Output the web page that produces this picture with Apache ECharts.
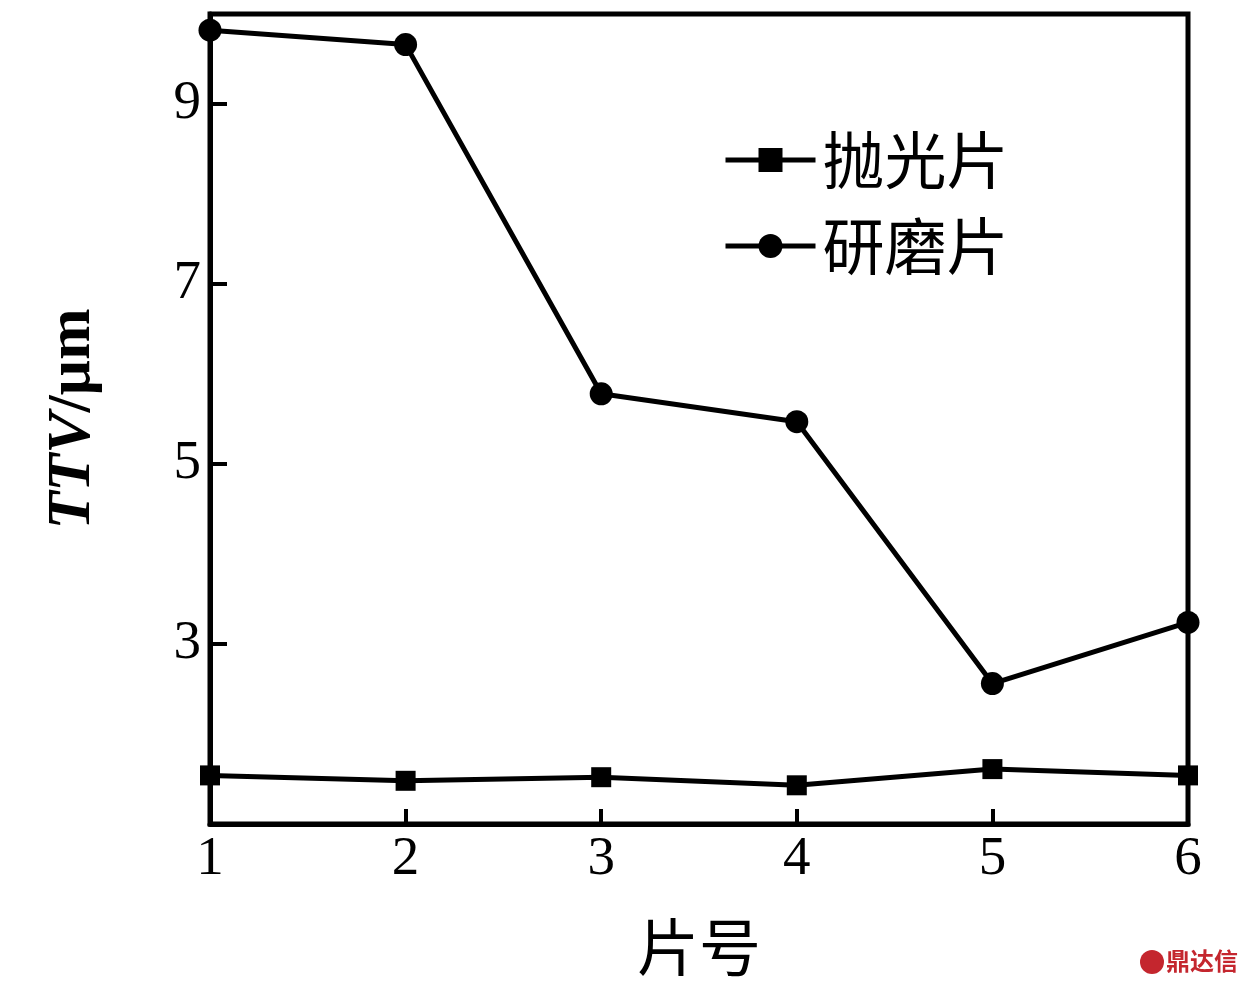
<!DOCTYPE html>
<html>
<head>
<meta charset="utf-8">
<script src="https://cdn.jsdelivr.net/npm/echarts@6/dist/echarts.min.js"></script>
<style>html,body{margin:0;padding:0;background:#fff}#c{width:1242px;height:984px}</style>
</head>
<body>
<div id="c"></div>
<script>
var sliceNo = [1, 2, 3, 4, 5, 6];
var polished = [1.54, 1.48, 1.52, 1.43, 1.61, 1.54];
var lapped = [9.82, 9.66, 5.78, 5.47, 2.56, 3.24];
var seriesNames = ['抛光片', '研磨片'];

function pairs(xs, ys) { return xs.map(function (x, i) { return [x, ys[i]]; }); }

var serif = '"Liberation Serif","DejaVu Serif",serif';
var cjk = '"Noto Sans CJK SC","Noto Sans CJK JP",sans-serif';
var chart = echarts.init(document.getElementById('c'), null, {renderer: 'canvas'});
chart.setOption({
  backgroundColor: '#fff',
  animation: false,
  grid: {left: 210, right: 54, top: 14, bottom: 160, show: true, borderColor: '#000', borderWidth: 5},
  legend: {
    orient: 'vertical', left: 718, top: 124, itemWidth: 90, itemHeight: 30, itemGap: 24,
    lineStyle: {width: 5, color: '#000'},
    textStyle: {fontFamily: cjk, fontSize: 62, color: '#000', padding: [0, 0, 0, 2]},
    data: seriesNames
  },
  xAxis: {
    type: 'value', min: 1, max: 6, interval: 1,
    name: '片号', nameLocation: 'middle', nameGap: 92,
    nameTextStyle: {fontFamily: cjk, fontSize: 62, color: '#000'},
    axisLine: {show: true, lineStyle: {color: '#000', width: 5}},
    axisTick: {inside: true, length: 15, lineStyle: {color: '#000', width: 4}},
    axisLabel: {fontFamily: serif, fontSize: 55, color: '#000', margin: 8},
    splitLine: {show: false}
  },
  yAxis: {
    type: 'value', min: 1, max: 10, interval: 2,
    name: '{i|TTV}{n|/μm}', nameLocation: 'middle', nameGap: 106, nameRotate: 90,
    nameTextStyle: {
      rich: {
        i: {fontFamily: serif, fontSize: 62, fontStyle: 'italic', fontWeight: 'bold', color: '#000'},
        n: {fontFamily: serif, fontSize: 62, fontWeight: 'bold', color: '#000'}
      }
    },
    axisLine: {show: true, lineStyle: {color: '#000', width: 5}},
    axisTick: {inside: true, length: 17, lineStyle: {color: '#000', width: 4}},
    axisLabel: {fontFamily: serif, fontSize: 55, color: '#000', margin: 9, showMinLabel: false, showMaxLabel: false},
    splitLine: {show: false}
  },
  series: [
    {
      name: seriesNames[0], type: 'line', data: pairs(sliceNo, polished),
      symbol: 'rect', symbolSize: 20, clip: false,
      lineStyle: {color: '#000', width: 5}, itemStyle: {color: '#000'}
    },
    {
      name: seriesNames[1], type: 'line', data: pairs(sliceNo, lapped),
      symbol: 'circle', symbolSize: 23, clip: false,
      lineStyle: {color: '#000', width: 5}, itemStyle: {color: '#000'}
    }
  ],
  graphic: [
    {type: 'circle', shape: {cx: 1152, cy: 962, r: 12}, style: {fill: '#c4262e'}},
    {type: 'text', left: 1166, top: 949, style: {text: '鼎达信', font: 'bold 24px "Noto Sans CJK SC"', fill: '#c4262e'}}
  ]
});
</script>
</body>
</html>
